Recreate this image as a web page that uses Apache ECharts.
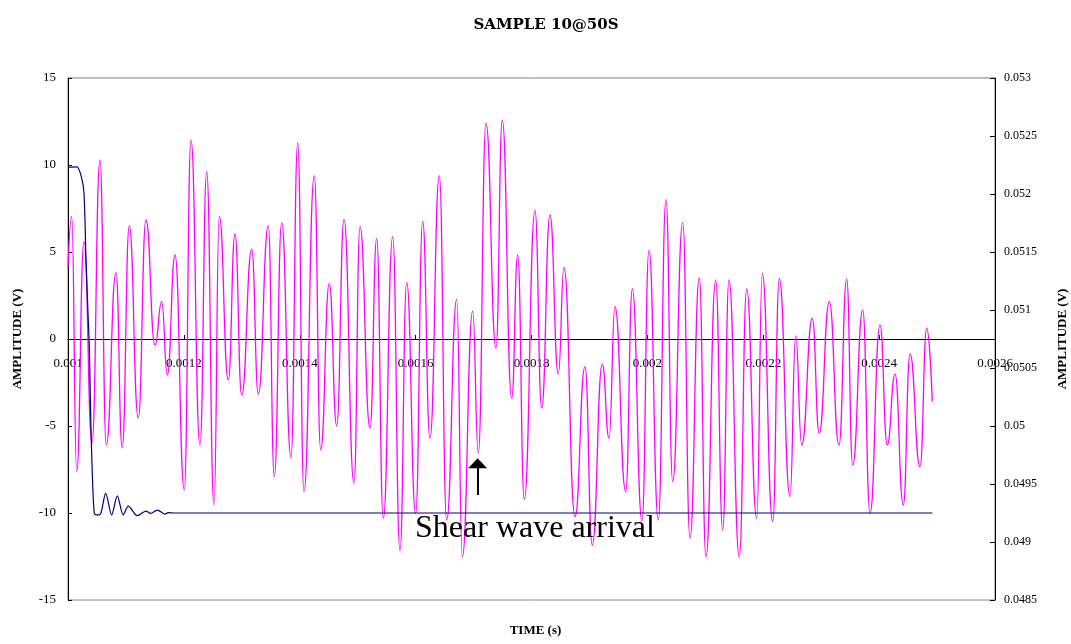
<!DOCTYPE html>
<html>
<head>
<meta charset="utf-8">
<script src="https://cdn.jsdelivr.net/npm/echarts@6/dist/echarts.min.js"></script>
<style>
  html, body { margin: 0; padding: 0; background: #fff; }
  #chart { width: 1071px; height: 644px; }
</style>
</head>
<body>
<div id="chart"></div>
<script>
// Sample 10 at 50 s: transmitted pulse (left axis) and received signal (right axis)
const chartTitle = 'SAMPLE 10@50S';

// Axis ranges and tick steps
const timeRange = [0.001, 0.0026];
const timeStep = 0.0002;
const pulseRange = [-15, 15];
const pulseStep = 5;
const receivedRange = [0.0485, 0.053];
const receivedStep = 0.0005;

// Transmitted pulse (V)
const pulseTime = [0.0010000, 0.0010150, 0.0010236, 0.0010276, 0.0010311, 0.0010350, 0.0010368,
  0.0010392, 0.0010419, 0.0010454, 0.0010495, 0.0010561, 0.0010651, 0.0010754, 0.0010851,
  0.0010954, 0.0011041, 0.0011196, 0.0011346, 0.0011427, 0.0011541, 0.0011674, 0.0011731,
  0.0011847, 0.0024918];
const pulseVolt = [9.87, 9.89, 9.25, 8.39, 4.54, 1.09, -0.44, -4.47, -7.70, -10.02, -10.11, -10.06,
  -8.87, -10.11, -9.02, -10.11, -9.60, -10.15, -9.89, -10.02, -9.83, -10.06, -9.98, -10.0, -10.0];

// Received signal (V), turning points of the trace
const waveTime = [
  0.0010000, 0.0010064, 0.0010150, 0.0010276, 0.0010414, 0.0010552, 0.0010661, 0.0010828, 0.0010935, 0.0011058,
  0.0011213, 0.0011346, 0.0011502, 0.0011617, 0.0011714, 0.0011847, 0.0012007, 0.0012123, 0.0012278, 0.0012394,
  0.0012520, 0.0012611, 0.0012767, 0.0012882, 0.0012998, 0.0013171, 0.0013285, 0.0013457, 0.0013561, 0.0013688,
  0.0013849, 0.0013965, 0.0014073, 0.0014251, 0.0014362, 0.0014510, 0.0014638, 0.0014764, 0.0014936, 0.0015040,
  0.0015213, 0.0015328, 0.0015442, 0.0015604, 0.0015730, 0.0015846, 0.0016001, 0.0016122, 0.0016248, 0.0016409,
  0.0016536, 0.0016709, 0.0016806, 0.0016985, 0.0017082, 0.0017215, 0.0017387, 0.0017496, 0.0017658, 0.0017762,
  0.0017876, 0.0018060, 0.0018176, 0.0018319, 0.0018463, 0.0018561, 0.0018751, 0.0018923, 0.0019049, 0.0019222,
  0.0019338, 0.0019441, 0.0019626, 0.0019740, 0.0019907, 0.0020028, 0.0020189, 0.0020321, 0.0020437, 0.0020610,
  0.0020736, 0.0020896, 0.0021012, 0.0021179, 0.0021300, 0.0021409, 0.0021587, 0.0021714, 0.0021887, 0.0021984,
  0.0022163, 0.0022277, 0.0022462, 0.0022560, 0.0022664, 0.0022847, 0.0022966, 0.0023140, 0.0023307, 0.0023440,
  0.0023544, 0.0023717, 0.0023843, 0.0024015, 0.0024141, 0.0024274, 0.0024417, 0.0024533, 0.0024706, 0.0024821,
  0.0024918];
const waveVolt = [
  0.051362, 0.051804, 0.049606, 0.051589, 0.049853, 0.052293, 0.049836, 0.051322, 0.049810, 0.051724,
  0.050069, 0.051776, 0.050698, 0.051072, 0.050440, 0.051474, 0.049448, 0.052466, 0.049836, 0.052192,
  0.049319, 0.051810, 0.050397, 0.051655, 0.050267, 0.051522, 0.050276, 0.051727, 0.049563, 0.051753,
  0.049730, 0.052442, 0.049434, 0.052158, 0.049793, 0.051230, 0.050000, 0.051782, 0.049506, 0.051718,
  0.049980, 0.051618, 0.049204, 0.051632, 0.048925, 0.051239, 0.049247, 0.051767, 0.049894, 0.052158,
  0.049190, 0.051092, 0.048873, 0.050991, 0.049765, 0.052610, 0.050672, 0.052638, 0.050239, 0.051474,
  0.049368, 0.051856, 0.050155, 0.051819, 0.050448, 0.051368, 0.049218, 0.050511, 0.048974, 0.050534,
  0.049894, 0.051028, 0.049434, 0.051181, 0.049181, 0.051517, 0.049190, 0.051954, 0.049520, 0.051756,
  0.049032, 0.051278, 0.048873, 0.051259, 0.049103, 0.051259, 0.048873, 0.051181, 0.049204, 0.051316,
  0.049175, 0.051273, 0.049391, 0.050776, 0.049836, 0.050927, 0.049937, 0.051072, 0.049836, 0.051265,
  0.049664, 0.051000, 0.049247, 0.050871, 0.049836, 0.050448, 0.049319, 0.050621, 0.049649, 0.050842,
  0.050210];

// Shear wave arrival annotation (time in s, levels on the left axis)
const arrivalTime = 0.001707;
const arrowBase = -8.97;
const arrowTip = -7.14;
const noteTime = 0.001806;
const noteLevel = -10.9;
const noteText = 'Shear wave arrival';

const serif = '"Liberation Serif", "Times New Roman", serif';
const slabSerif = '"DejaVu Serif", serif';
const trimNum = v => String(+v.toFixed(5));

const pulseData = pulseTime.map((t, i) => [t, pulseVolt[i]]);
const waveData = waveTime.map((t, i) => [t, waveVolt[i]]);

// Plot box
const gridBox = { left: 68, right: 76, top: 78, bottom: 44 };
const plotHeight = 644 - gridBox.top - gridBox.bottom;
// The time axis runs along the zero level of the left axis
const zeroShift = plotHeight * (0 - pulseRange[0]) / (pulseRange[1] - pulseRange[0]);

const chart = echarts.init(document.getElementById('chart'), null, { renderer: 'canvas' });
chart.setOption({
  animation: false,
  backgroundColor: '#fff',
  title: {
    text: chartTitle,
    left: 541,
    top: 13,
    textAlign: 'center',
    textStyle: { fontFamily: slabSerif, fontSize: 15, fontWeight: 'bold', color: '#000' }
  },
  graphic: [{
    type: 'text',
    left: 'center',
    top: 624,
    style: { text: 'TIME (s)', font: 'bold 13px ' + serif, fill: '#000' }
  }],
  grid: Object.assign({
    show: true, borderColor: '#808080', borderWidth: 1, backgroundColor: '#fff',
    containLabel: false, outerBoundsMode: 'none'
  }, gridBox),
  xAxis: {
    type: 'value',
    position: 'bottom',
    offset: -zeroShift,
    min: timeRange[0], max: timeRange[1], interval: timeStep,
    axisLine: { onZero: false, lineStyle: { color: '#000', width: 1 } },
    axisTick: { show: true, inside: true, length: 4, lineStyle: { color: '#000' } },
    axisLabel: { margin: 18, color: '#000', fontFamily: serif, fontSize: 13, formatter: trimNum,
      showMinLabel: true, showMaxLabel: true },
    splitLine: { show: false }
  },
  yAxis: [{
    type: 'value',
    position: 'left',
    min: pulseRange[0], max: pulseRange[1], interval: pulseStep,
    name: 'AMPLITUDE (V)', nameLocation: 'middle', nameRotate: 90, nameGap: 44,
    nameTextStyle: { fontFamily: serif, fontSize: 13, fontWeight: 'bold', color: '#000' },
    axisLine: { show: true, onZero: false, lineStyle: { color: '#000', width: 1 } },
    axisTick: { show: true, inside: true, length: 4, lineStyle: { color: '#000' } },
    axisLabel: { margin: 12, color: '#000', fontFamily: serif, fontSize: 13 },
    splitLine: { show: false }
  }, {
    type: 'value',
    position: 'right',
    min: receivedRange[0], max: receivedRange[1], interval: receivedStep,
    name: 'AMPLITUDE (V)', nameLocation: 'middle', nameRotate: 90, nameGap: 61,
    nameTextStyle: { fontFamily: serif, fontSize: 13, fontWeight: 'bold', color: '#000' },
    axisLine: { show: true, onZero: false, lineStyle: { color: '#000', width: 1 } },
    axisTick: { show: true, inside: true, length: 5, lineStyle: { color: '#000' } },
    axisLabel: { margin: 9, color: '#000', fontFamily: serif, fontSize: 12, formatter: trimNum },
    splitLine: { show: false }
  }],
  series: [{
    name: 'Received',
    type: 'line',
    yAxisIndex: 1,
    data: waveData,
    showSymbol: false,
    smooth: 0.5,
    smoothMonotone: 'x',
    lineStyle: { color: '#ff00ff', width: 1.3 },
    itemStyle: { color: '#ff00ff' },
    z: 2
  }, {
    name: 'Pulse',
    type: 'line',
    yAxisIndex: 0,
    data: pulseData,
    showSymbol: false,
    smooth: 0.3,
    lineStyle: { color: '#000080', width: 1.2 },
    itemStyle: { color: '#000080' },
    z: 3,
    markLine: {
      silent: true,
      animation: false,
      label: { show: false },
      lineStyle: { color: '#000', width: 2, type: 'solid' },
      data: [[
        { coord: [arrivalTime, arrowBase], symbol: 'none' },
        { coord: [arrivalTime, arrowTip], symbol: 'triangle', symbolSize: [19, 10] }
      ]]
    },
    markPoint: {
      silent: true,
      animation: false,
      symbol: 'circle',
      symbolSize: 1,
      itemStyle: { color: 'rgba(0,0,0,0)' },
      label: {
        show: true, position: 'inside', formatter: noteText,
        fontFamily: serif, fontSize: 32, color: '#000'
      },
      data: [{ coord: [noteTime, noteLevel] }]
    }
  }]
});
</script>
</body>
</html>
